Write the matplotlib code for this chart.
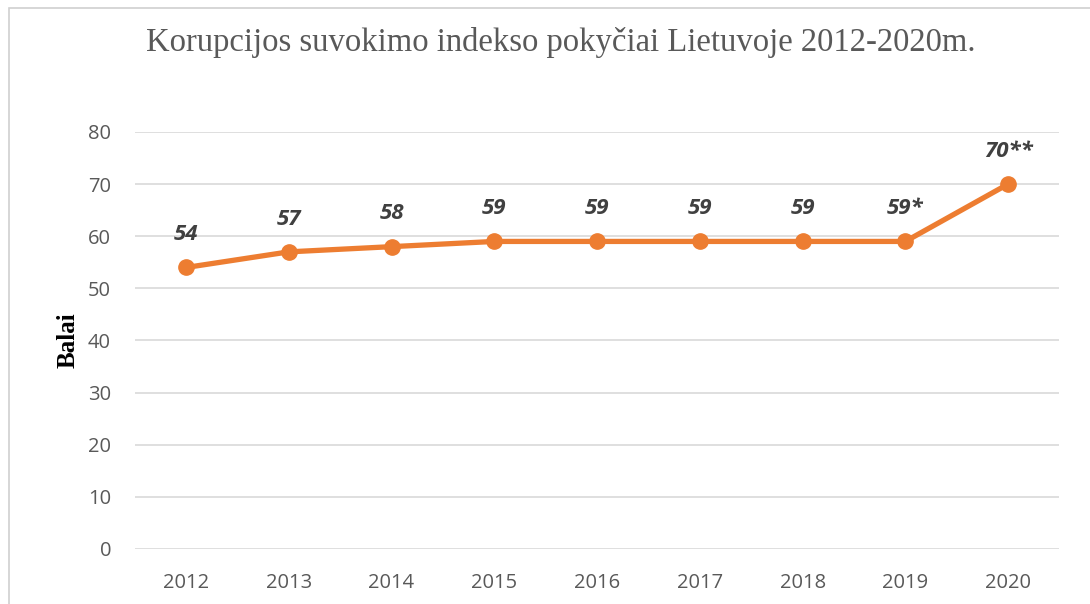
import matplotlib
matplotlib.use("Agg")
import matplotlib.pyplot as plt
from matplotlib.patches import Rectangle

# DATA

years  = ["2012", "2013", "2014", "2015", "2016", "2017", "2018", "2019", "2020"]
scores = [54, 57, 58, 59, 59, 59, 59, 59, 70]
labels = ["54", "57", "58", "59", "59", "59", "59", "59*", "70**"]
y_ticks = [0, 10, 20, 30, 40, 50, 60, 70, 80]

TITLE  = "Korupcijos suvokimo indekso pokyčiai Lietuvoje 2012-2020m."
YLABEL = "Balai"

ORANGE = "#ED7D31"
GREY   = "#595959"
GRID   = "#D9D9D9"

# PLOT

fig = plt.figure(figsize=(10.9, 6.04), dpi=100)
ax = fig.add_axes([0.1235, 0.0911, 0.8485, 0.6904])

# outer chart frame (cropped on the right/bottom in the reference)
fig.patches.append(Rectangle((9 / 1090, -0.05), 1.2, 1 - 8 / 604 + 0.05,
                             transform=fig.transFigure, fill=False,
                             edgecolor="#D0D0D0", linewidth=1.2))

x = list(range(len(years)))
ax.plot(x, scores, color=ORANGE, linewidth=3.8, marker="o", markersize=11,
        solid_capstyle="round", zorder=3)

for xi, yi, lab in zip(x, scores, labels):
    ax.annotate(lab, (xi, yi), xytext=(0, 16), textcoords="offset points",
                ha="center", va="bottom", fontsize=16, fontweight="bold",
                fontstyle="italic", color="#404040", family="Open Sans")

ax.set_xlim(-0.5, len(years) - 0.5)
ax.set_ylim(0, 80)
ax.set_yticks(y_ticks)
ax.set_xticks(x)
ax.set_xticklabels(years)
ax.grid(True, axis="y", color=GRID, linewidth=1.2)
ax.set_axisbelow(True)
for s in ax.spines.values():
    s.set_visible(False)
ax.tick_params(length=0, labelsize=14.5, labelcolor=GREY)
for t in ax.get_xticklabels() + ax.get_yticklabels():
    t.set_family("Open Sans")
ax.tick_params(axis="x", pad=17)
ax.tick_params(axis="y", pad=17)

ax.set_ylabel(YLABEL, family="Liberation Serif", fontweight="bold",
              fontsize=18, color="black", labelpad=6)

fig.text(0.514, 0.93, TITLE, ha="center", va="center",
         family="Liberation Serif", fontsize=23.5, color=GREY)

fig.savefig("out.png", dpi=100)
